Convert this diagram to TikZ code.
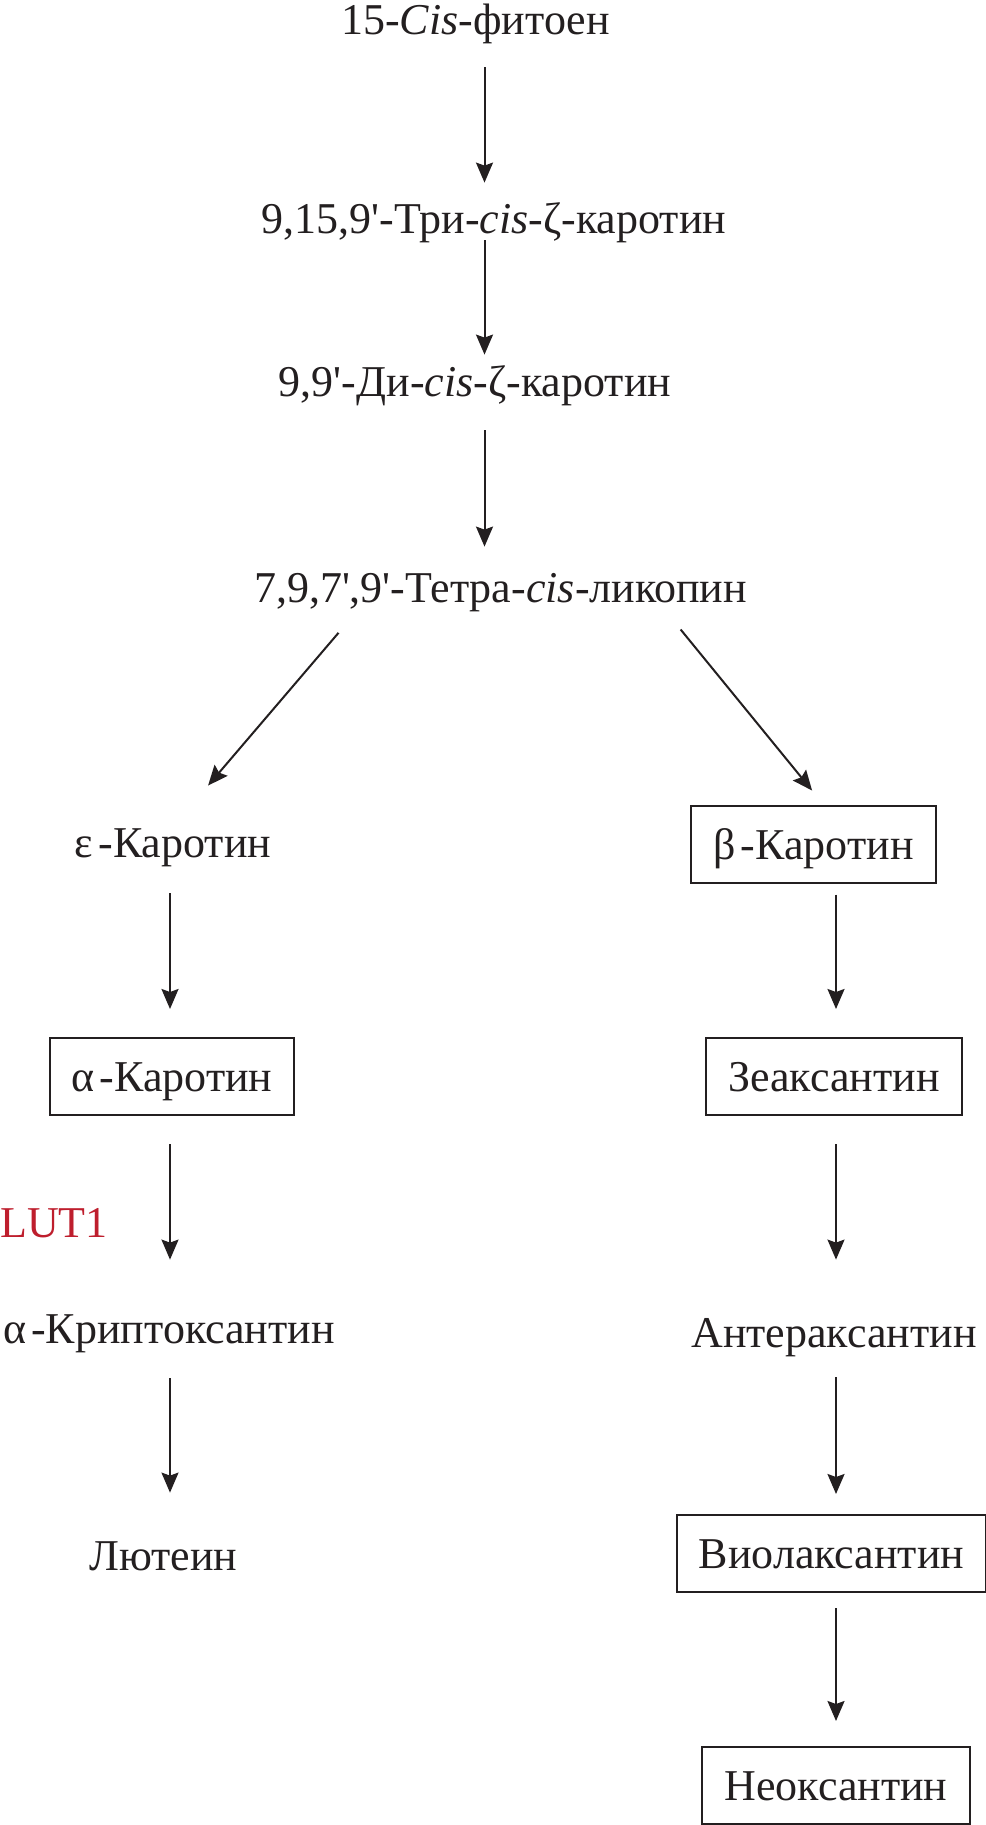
\documentclass[tikz,border=0pt]{standalone}
\usepackage{fontspec}
\setmainfont{Liberation Serif}
\usetikzlibrary{arrows.meta}
\definecolor{rot}{RGB}{190,30,45}
\definecolor{tinte}{RGB}{35,31,32}
\newcommand{\rot}[2][rot]{\textcolor{#1}{#2}}
\newcommand{\strich}{\textquotesingle}
\newcommand{\gr}[1]{#1\kern2.5pt}

\tikzset{
  stoff/.style={anchor=base, inner sep=0pt, text height=15pt, text depth=0pt},
  kasten/.style={draw=tinte, line width=1pt, inner xsep=11pt, inner ysep=0pt,
    minimum height=38.5pt, text height=15pt, text depth=0pt},
  pfeil/.style={draw=tinte, line width=1pt, -{Stealth[length=10pt, width=8.5pt, inset=1.5pt]}}
}

\begin{document}
\begin{tikzpicture}[x=0.5pt, y=-0.5pt, every node/.style={font=\fontsize{22pt}{26pt}\selectfont, text=tinte}]
    \useasboundingbox (0,0) rectangle (985,1825);

    % Spalten der Pfeile
    \coordinate (mitte) at (484.5,0);
    \coordinate (links) at (170,0);
    \coordinate (rechts) at (836,0);

    % Hauptkette
    \node[stoff] (phyt) at (475.5,35) {15-\textit{Cis}-фитоен};
    \node[stoff] (tri) at (494,233) {9,15,9\strich-Три-\textit{cis}-ζ-каротин};
    \node[stoff] (di) at (475,396) {9,9\strich-Ди-\textit{cis}-ζ-каротин};
    \node[stoff] (tetra) at (500.5,602) {7,9,7\strich,9\strich-Тетра-\textit{cis}-ликопин};

    \draw[pfeil, shorten <=16pt, shorten >=10pt] (phyt.south -| mitte) -- (tri.north -| mitte);
    \draw[pfeil, shorten <=3.5pt, shorten >=5.5pt] (tri.south -| mitte) -- (di.north -| mitte);
    \draw[pfeil, shorten <=17pt, shorten >=12.5pt] (di.south -| mitte) -- (tetra.north -| mitte);

    % Linker Zweig (alpha)
    \node[stoff] (eps) at (173,857) {\gr{ε}-Каротин};
    \node[kasten] (alpha) at (172,1076.5) {\gr{α}-Каротин};
    \node[stoff] (krypto) at (169,1343) {\gr{α}-Криптоксантин};
    \node[stoff] (lutein) at (163.5,1570) {Лютеин};
    \node[stoff] (lut) at (54,1237) {\rot{LUT1}};  % Enzym

    % Rechter Zweig (beta)
    \node[kasten] (beta) at (813.5,844) {\gr{β}-Каротин};
    \node[kasten] (zea) at (834,1076.5) {Зеаксантин};
    \node[stoff] (antera) at (834,1347) {Антераксантин};
    \node[kasten] (viola) at (831.5,1553.5) {Виолаксантин};
    \node[kasten] (neo) at (836,1785.5) {Неоксантин};

    % Verzweigung
    \draw[pfeil, shorten <=20pt, shorten >=27pt] ([xshift=-68pt]tetra.south) -- (eps.north);
    \draw[pfeil, shorten <=17.5pt, shorten >=9pt] ([xshift=79pt]tetra.south) -- ([xshift=5pt]beta.north);

    % Pfeile links
    \draw[pfeil, shorten <=18pt, shorten >=14pt] (eps.south -| links) -- (alpha.north -| links);
    \draw[pfeil, shorten <=14pt, shorten >=26.5pt] (alpha.south -| links) -- (krypto.north -| links);
    \draw[pfeil, shorten <=17.5pt, shorten >=23.5pt] (krypto.south -| links) -- (lutein.north -| links);

    % Pfeile rechts
    \draw[pfeil, shorten <=5.5pt, shorten >=14pt] (beta.south -| rechts) -- (zea.north -| rechts);
    \draw[pfeil, shorten <=14pt, shorten >=28.5pt] (zea.south -| rechts) -- (antera.north -| rechts);
    \draw[pfeil, shorten <=15pt, shorten >=10pt] (antera.south -| rechts) -- (viola.north -| rechts);
    \draw[pfeil, shorten <=7.5pt, shorten >=12.5pt] (viola.south -| rechts) -- (neo.north -| rechts);
\end{tikzpicture}
\end{document}
